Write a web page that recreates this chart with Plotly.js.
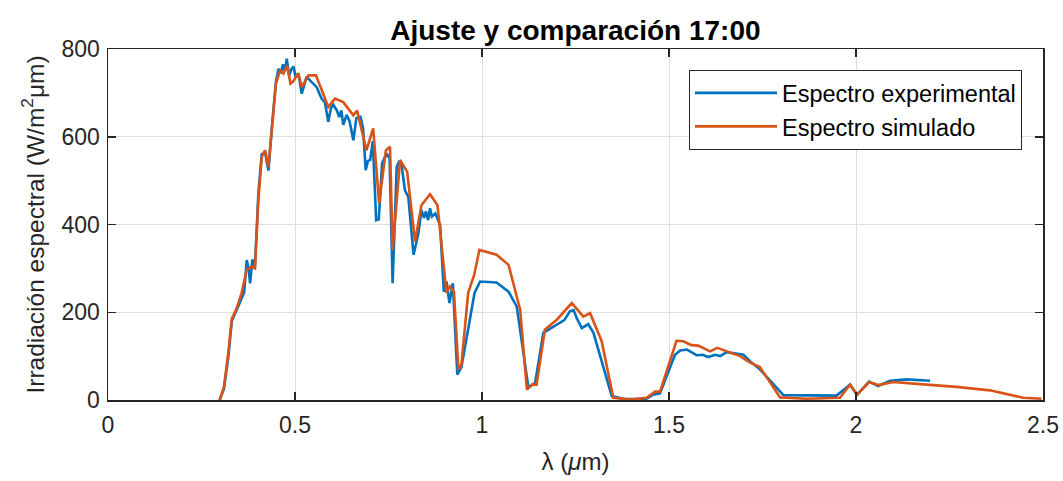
<!DOCTYPE html>
<html>
<head>
<meta charset="utf-8">
<script src="https://cdn.plot.ly/plotly-3.0.1.min.js"></script>
<style>html,body{margin:0;padding:0;background:#fff;}#chart{width:1063px;height:481px;}</style>
</head>
<body>
<div id="chart"></div>
<script>
const expX = [0.298,0.31,0.322,0.331,0.344,0.357,0.364,0.371,0.376,0.380,0.386,0.393,0.402,0.411,0.420,0.425,0.429,0.437,0.449,0.456,0.462,0.468,0.473,0.478,0.484,0.491,0.496,0.502,0.509,0.518,0.531,0.544,0.558,0.571,0.580,0.589,0.596,0.602,0.612,0.618,0.624,0.629,0.638,0.646,0.656,0.664,0.675,0.682,0.689,0.695,0.701,0.708,0.717,0.724,0.733,0.745,0.753,0.761,0.772,0.779,0.785,0.794,0.803,0.817,0.830,0.838,0.845,0.850,0.856,0.861,0.866,0.875,0.888,0.898,0.905,0.913,0.922,0.934,0.945,0.958,0.980,0.995,1.039,1.071,1.093,1.124,1.142,1.164,1.200,1.220,1.235,1.245,1.253,1.267,1.284,1.298,1.347,1.380,1.440,1.458,1.476,1.516,1.530,1.548,1.562,1.574,1.590,1.605,1.623,1.637,1.654,1.699,1.717,1.743,1.806,1.948,1.984,2.003,2.035,2.059,2.091,2.135,2.198];
const expY = [0,25,100,180,205,232,245,319,300,266,320,305,470,560,565,540,523,610,725,755,745,765,750,778,740,755,760,735,745,698,737,725,713,687,678,634,665,673,660,645,660,627,650,635,592,642,645,620,524,545,547,590,410,412,540,562,550,266,531,545,535,478,463,331,380,433,415,430,410,437,418,425,399,247,270,221,266,58,75,137,244,270,268,247,213,28,39,153,172,182,202,205,187,164,173,153,9,2,3,12,15,103,113,115,108,102,103,98,103,100,109,103,88,70,11,10,35,12,42,32,44,47,44];

const simX = [0.299,0.31,0.322,0.331,0.344,0.357,0.371,0.384,0.393,0.402,0.411,0.420,0.429,0.437,0.449,0.460,0.469,0.479,0.488,0.494,0.509,0.518,0.536,0.556,0.567,0.589,0.607,0.629,0.656,0.666,0.691,0.709,0.725,0.743,0.754,0.761,0.781,0.800,0.821,0.838,0.861,0.881,0.905,0.914,0.925,0.937,0.945,0.963,0.979,0.993,1.039,1.071,1.102,1.120,1.133,1.146,1.168,1.200,1.240,1.271,1.289,1.320,1.351,1.396,1.440,1.463,1.476,1.520,1.538,1.560,1.578,1.610,1.629,1.654,1.690,1.717,1.743,1.797,1.868,1.957,1.984,2.003,2.035,2.059,2.099,2.189,2.269,2.358,2.447,2.496];
const simY = [0,30,110,185,209,243,297,304,300,456,554,569,531,615,721,751,744,762,721,725,744,713,740,740,717,668,687,679,649,660,569,619,448,569,577,342,547,520,361,444,469,444,244,259,247,69,81,244,285,342,331,308,206,24,35,35,160,183,221,190,198,134,5,1,5,19,19,135,134,125,124,111,119,111,100,85,75,6,3,5,35,12,41,34,41,35,30,22,5,3];

const seriesNames = ["Espectro experimental", "Espectro simulado"];
const xTicks = [0, 0.5, 1, 1.5, 2, 2.5];
const xTickText = ["0", "0.5", "1", "1.5", "2", "2.5"];
const yTicks = [0, 200, 400, 600, 800];

const font = "Liberation Sans, Arial, Helvetica, sans-serif";

const traces = [
  {x: expX, y: expY, name: seriesNames[0], type: "scatter", mode: "lines",
   line: {color: "#0072BD", width: 2.6}},
  {x: simX, y: simY, name: seriesNames[1], type: "scatter", mode: "lines",
   line: {color: "#D95319", width: 2.6}}
];

const axisCommon = {
  showline: true, linecolor: "#262626", linewidth: 1.5, mirror: "ticks",
  ticks: "inside", ticklen: 8, tickwidth: 1.5, tickcolor: "#262626",
  showgrid: true, gridcolor: "#dedede", gridwidth: 1, zeroline: false,
  tickfont: {family: font, size: 23, color: "#262626"}
};

const layout = {
  width: 1063, height: 481,
  margin: {l: 108, r: 20, t: 49, b: 81},
  paper_bgcolor: "#fff", plot_bgcolor: "#fff",
  title: {text: "<b>Ajuste y comparación 17:00</b>", font: {family: font, size: 28, color: "#000"},
          x: 0.5413, xanchor: "center", y: 0.937, yanchor: "middle"},
  xaxis: Object.assign({}, axisCommon, {
    range: [0, 2.5], tickvals: xTicks, ticktext: xTickText, ticklabelstandoff: 4,
    title: {text: "λ (<i>μ</i>m)", font: {family: font, size: 24, color: "#262626"}, standoff: 16}
  }),
  yaxis: Object.assign({}, axisCommon, {
    range: [0, 800], tickvals: yTicks, ticklabelstandoff: 2,
    title: {text: "Irradiación espectral (W/m<sup>2</sup>μm)", font: {family: font, size: 24.5, color: "#262626"}, standoff: 10}
  }),
  showlegend: true,
  legend: {
    x: 0.9775, xanchor: "right", y: 0.94, yanchor: "top",
    bgcolor: "#fff", bordercolor: "#262626", borderwidth: 1,
    font: {family: font, size: 23.5, color: "#000"},
    itemwidth: 82, tracegroupgap: 0
  }
};

Plotly.newPlot("chart", traces, layout, {displayModeBar: false, staticPlot: true});
</script>
</body>
</html>
